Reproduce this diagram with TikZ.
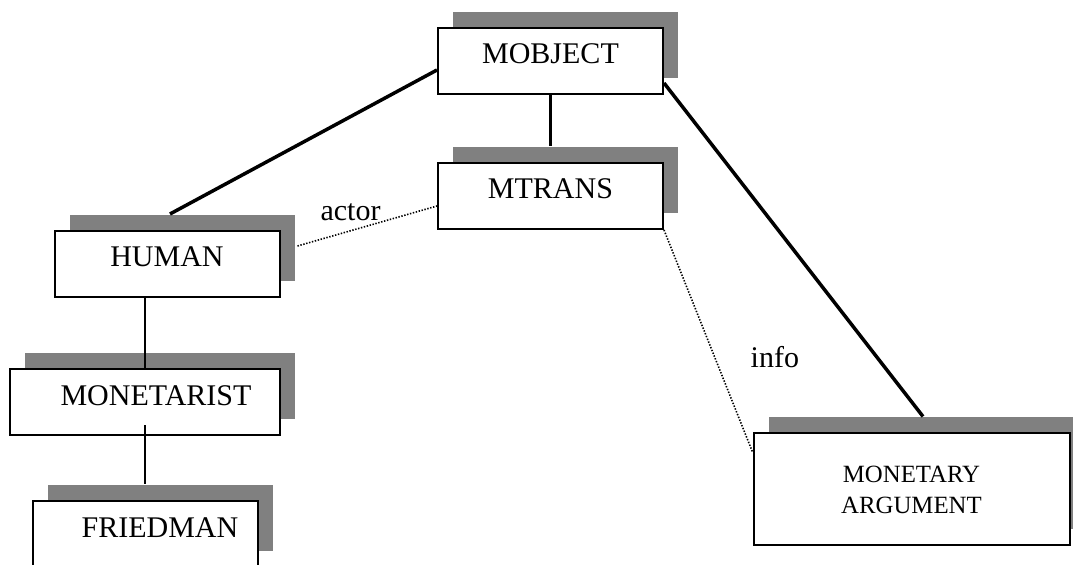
\documentclass[tikz,border=0pt]{standalone}
\usepackage{fontspec}
\setmainfont{Liberation Serif}
\usetikzlibrary{positioning}
\usetikzlibrary{shadows}
\definecolor{shadowgray}{RGB}{128,128,128}

\tikzset{
  box/.style={draw, line width=1pt, fill=white, inner sep=0pt,
    minimum width=112.5pt, minimum height=33pt,
    drop shadow={shadow xshift=7.5pt, shadow yshift=8pt, fill=shadowgray, opacity=1}},
  frame/.style={box, text height=12pt, text depth=9pt,
    font=\fontsize{15pt}{18pt}\selectfont},
  bigframe/.style={box, align=center, minimum width=158pt, minimum height=56pt,
    font=\fontsize{12.4pt}{15.5pt}\selectfont},
  isa/.style={line width=1.75pt},
  link/.style={line width=0.9pt},
  slot/.style={line width=0.8pt, dash pattern=on 0.7pt off 0.8pt},
  slotname/.style={inner sep=0pt, font=\fontsize{15pt}{18pt}\selectfont}
}

\begin{document}
\begin{tikzpicture}[x=0.5pt, y=-0.5pt]
  \useasboundingbox (0,0) rectangle (1073,565);

  \node [frame] (mobject) at (550.5,61) {MOBJECT};
  \node [frame, below=33.5pt of mobject] (mtrans) {MTRANS};
  \node [frame] (human) at (167,264) {HUMAN};
  \node [frame, minimum width=135pt] (monetarist) at (145,402.5) {\hspace*{11pt}MONETARIST};
  \node [frame, below=32pt of monetarist] (friedman) {\hspace*{15pt}FRIEDMAN};
  \node [bigframe] (argument) at (911.5,489.5) {MONETARY\\ARGUMENT};

  % is-a links
  \draw [isa] ([yshift=-4.5pt]mobject.west) -- ([xshift=1.5pt,yshift=8pt]human.north);
  \draw [isa] (mobject.south) -- ([yshift=8pt]mtrans.north);
  \draw [isa] ([yshift=-11pt]mobject.east) -- ([xshift=5.75pt,yshift=8pt]argument.north);
  \draw [link] (monetarist.north) -- (monetarist.north |- human.south);
  \draw [link] ([yshift=5.5pt]monetarist.south) -- ([yshift=8pt]friedman.north);

  % slots
  \draw [slot] ([xshift=8.5pt,yshift=9pt]human.east)
    -- node [slotname, pos=.38, anchor=base, yshift=5pt] {actor} ([yshift=-5pt]mtrans.west);
  \draw [slot] (mtrans.south east)
    -- node [slotname, pos=.62, anchor=base west, xshift=15.5pt] {info} ([yshift=18.75pt]argument.west);
\end{tikzpicture}
\end{document}
